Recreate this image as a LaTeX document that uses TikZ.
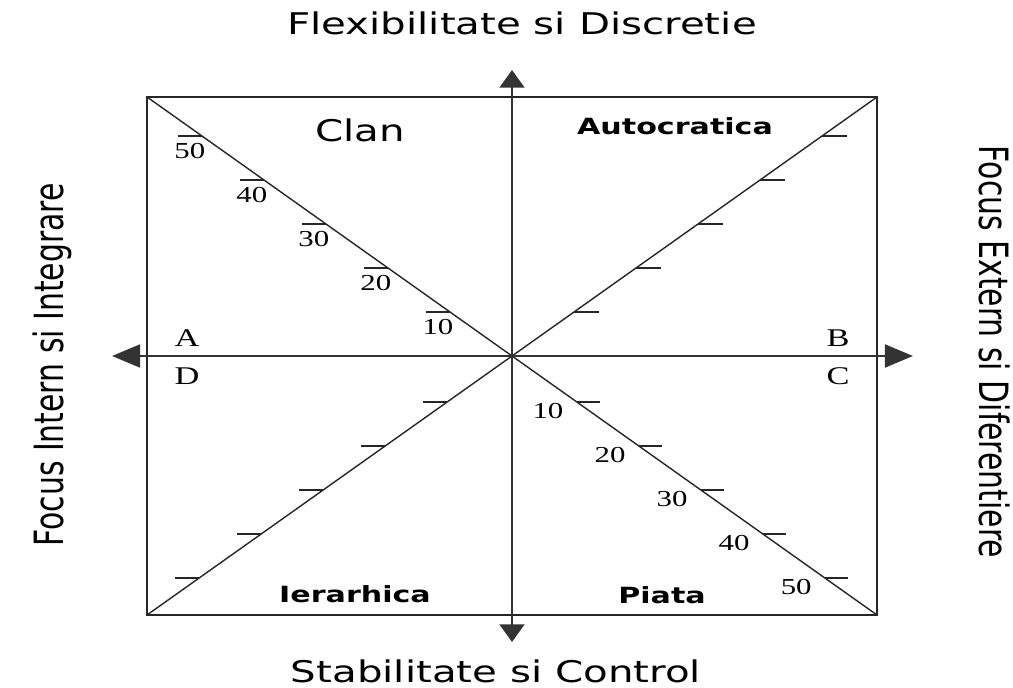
\documentclass[tikz,border=0pt]{standalone}
\usepackage{fontspec}
\newfontfamily\sansfont{DejaVu Sans}
\newfontfamily\seriffont{Liberation Serif}
\usetikzlibrary{arrows.meta, calc}

\begin{document}
\begin{tikzpicture}[x=0.02cm, y=-0.02cm,
  frame/.style={draw=black!85, line width=1pt},
  diag/.style={draw=black!85, line width=0.8pt},
  tick/.style={draw=black!85, line width=1pt},
  haxis/.style={draw=black!80, line width=1.5pt, {Triangle[length=16pt, width=13pt]}-{Triangle[length=16pt, width=13pt]}},
  vaxis/.style={draw=black!80, line width=1.5pt, {Triangle[length=10pt, width=14pt]}-{Triangle[length=10pt, width=14pt]}},
  num/.style={font=\seriffont\fontsize{13}{15}\selectfont, xscale=1.35, inner sep=0pt, anchor=base},
  corner/.style={font=\seriffont\fontsize{14.5}{16}\selectfont, xscale=1.35, inner sep=0pt, anchor=base},
  quad/.style={font=\sansfont\bfseries\fontsize{12.7}{15}\selectfont, xscale=1.35, inner sep=0pt, anchor=base},
  side/.style={font=\sansfont\fontsize{17}{20}\selectfont, xscale=1.35, inner sep=0pt, anchor=base}]

  \useasboundingbox (0,0) rectangle (1013,688);

  % Colturile cadrului si centrul
  \coordinate (nw) at (147,97);
  \coordinate (ne) at (877,97);
  \coordinate (se) at (877,615);
  \coordinate (sw) at (147,615);
  \coordinate (O) at (512,356);

  % Varfurile axelor
  \coordinate (ntip) at (512,70);
  \coordinate (stip) at (512,642);
  \coordinate (wtip) at (112,356);
  \coordinate (etip) at (913,356);

  % Cadru si diagonale
  \draw[frame] (nw) rectangle (se);
  \draw[diag] (nw) -- (se);
  \draw[diag] (sw) -- (ne);

  % Axele
  \draw[haxis] (wtip) -- (etip);
  \draw[vaxis] (stip) -- (ntip);

  % Gradatii pe diagonale
  \foreach \k/\val in {1/10, 2/20, 3/30, 4/40, 5/50} {
    % stanga sus, cu valori
    \coordinate (nw\k) at ($(O)!{0.17*\k}!(nw)$);
    \draw[tick] (nw\k) -- ++(-24,0) coordinate (nwt\k);
    \node[num] (nwl\k) at ($(nw\k)+(-12,23)$) {\val};
    % dreapta sus
    \coordinate (ne\k) at ($(O)!{0.17*\k}!(ne)$);
    \draw[tick] (ne\k) -- ++(25,0) coordinate (net\k);
    % stanga jos
    \coordinate (sw\k) at ($(O)!{0.17*\k+0.008}!(sw)$);
    \draw[tick] (sw\k) -- ++(-24,0) coordinate (swt\k);
    % dreapta jos, cu valori
    \coordinate (se\k) at ($(O)!{0.17*\k+0.008}!(se)$);
    \draw[tick] (se\k) -- ++(23,0) coordinate (set\k);
    \node[num] (sel\k) at ($(se\k)+(-29,16)$) {\val};
  }

  % Literele de langa axa orizontala
  \node[corner] (lblA) at (187,347) {A};
  \node[corner] (lblD) at (187,385) {D};
  \node[corner] (lblB) at (838,347) {B};
  \node[corner] (lblC) at (838,385) {C};

  % Tipurile de cultura
  \node[side] (clan) at (360,142) {Clan};
  \node[quad] (autocratica) at (675,135) {Autocratica};
  \node[quad] (ierarhica) at (355,602) {Ierarhica};
  \node[quad] (piata) at (662,603) {Piata};

  % Denumirile axelor
  \node[side] (top) at (522,35) {Flexibilitate si Discretie};
  \node[side] (bottom) at (496,682) {Stabilitate si Control};
  \node[side, rotate=90] (left) at (63,365) {Focus Intern si Integrare};
  \node[side, rotate=-90] (right) at (979,352) {Focus Extern si Diferentiere};
\end{tikzpicture}
\end{document}
